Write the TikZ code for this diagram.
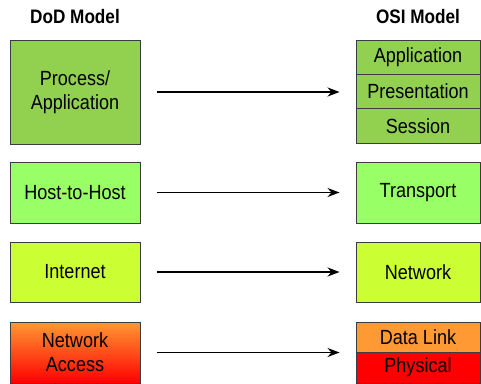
\documentclass[tikz,border=0pt]{standalone}
\usepackage{fontspec}
\usetikzlibrary{arrows.meta}
\newfontfamily\lab{Liberation Sans}[FakeStretch=0.88]
\definecolor{cgreen}{RGB}{146,208,80}
\definecolor{clight}{RGB}{153,255,102}
\definecolor{clime}{RGB}{204,255,51}
\definecolor{corange}{RGB}{255,153,51}
\definecolor{cred}{RGB}{255,0,0}
\definecolor{cborder}{RGB}{60,60,60}
\begin{document}
\begin{tikzpicture}[x=1pt,y=-1pt,
  layer/.style={draw=cborder,line width=0.9pt,inner sep=0pt,align=center,
    font=\lab\fontsize{20.5}{24}\selectfont,text=black},
  dodbox/.style={layer,minimum width=130pt},
  osibox/.style={layer,minimum width=124pt},
  title/.style={font=\lab\bfseries\fontsize{19.5}{22}\selectfont,inner sep=0pt},
  arr/.style={-{Stealth[length=12pt,width=9pt]},line width=1.8pt,shorten <=17pt,shorten >=16pt}]
\useasboundingbox (0,0) rectangle (481,383);
\node[title] (dodt) at (75,16.5) {DoD Model};
\node[title] (osit) at (418,16.5) {OSI Model};
% DoD
\node[dodbox,fill=cgreen,minimum height=104pt] (proc) at (75,92) {Process/\\Application};
\node[dodbox,fill=clight,minimum height=61pt] (h2h) at (75,192.5) {Host-to-Host};
\node[dodbox,fill=clime,minimum height=60pt] (inet) at (75,272) {Internet};
\node[dodbox,top color=corange,bottom color=cred,draw=cborder,minimum height=61pt] (na) at (75,352.5) {Network\\Access};
% OSI
\node[osibox,fill=cgreen,minimum height=34.3pt] (app) at (418,57.2) {Application};
\node[osibox,fill=cgreen,minimum height=34.3pt] (pres) at (418,91.5) {Presentation};
\node[osibox,fill=cgreen,minimum height=34.3pt] (sess) at (418,125.8) {Session};
\node[osibox,fill=clight,minimum height=61pt] (trans) at (418,192.5) {Transport};
\node[osibox,fill=clime,minimum height=60pt] (net) at (418,272) {Network};
\node[osibox,fill=corange,minimum height=30pt] (dl) at (418,337) {Data Link};
\node[osibox,fill=cred,minimum height=31pt] (phys) at (418,367.5) {Physical};
% arrows
\draw[arr] (proc.east) -- (proc.east -| pres.west);
\draw[arr] (h2h) -- (trans);
\draw[arr] (inet) -- (net);
\draw[arr] (na.east) -- (na.east -| phys.west);
\end{tikzpicture}
\end{document}
